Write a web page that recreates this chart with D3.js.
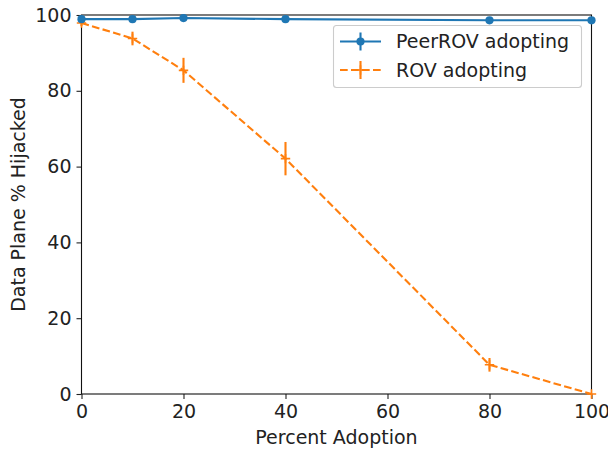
<!DOCTYPE html>
<html><head><meta charset="utf-8">
<script src="https://cdn.jsdelivr.net/npm/d3@7"></script>
<style>body{margin:0;background:#fff;}svg{display:block;font-family:"DejaVu Sans",sans-serif;}</style>
</head><body>
<svg id="c" width="608" height="450"></svg>
<script>
const adoption = [0, 10, 20, 40, 80, 100];
const peerROV = [98.9, 98.9, 99.2, 98.9, 98.6, 98.6];
const peerROVErr = [0.5, 0.3, 0.3, 0.3, 0.3, 0.3];
const rov = [97.9, 93.8, 85.4, 62.1, 7.7, 0.0];
const rovErr = [0.8, 1.8, 3.3, 4.4, 1.8, 0.0];
const xTicks = [0, 20, 40, 60, 80, 100];
const yTicks = [0, 20, 40, 60, 80, 100];
const seriesNames = ["PeerROV adopting", "ROV adopting"];
const colors = ["#1f77b4", "#ff7f0e"];

const L = 81.5, R = 591.5, T = 15, B = 394;
const svg = d3.select("#c");
const x = d3.scaleLinear().domain([0, 100]).range([L, R]);
const y = d3.scaleLinear().domain([0, 100]).range([B, T]);
const fs = 19;
const lw = 2.1;

// axes
const xa = svg.append("g").attr("transform", `translate(0,${B})`)
  .call(d3.axisBottom(x).tickValues(xTicks).tickSize(5).tickPadding(5).tickFormat(d3.format("d")));
const ya = svg.append("g").attr("transform", `translate(${L},0)`)
  .call(d3.axisLeft(y).tickValues(yTicks).tickSize(5).tickPadding(5).tickFormat(d3.format("d")));
[xa, ya].forEach(a => {
  a.select(".domain").remove();
  a.selectAll("text").attr("font-size", fs).attr("fill", "#222").attr("font-family", "DejaVu Sans");
  a.selectAll("line").attr("stroke", "#222").attr("stroke-width", 1.1);
});
xa.selectAll("text").attr("dy", "0.76em");
svg.append("rect").attr("x", L).attr("y", T).attr("width", R - L).attr("height", B - T)
  .attr("fill", "none").attr("stroke", "#111").attr("stroke-width", 1.1);

// labels
svg.append("text").attr("x", (L + R) / 2).attr("y", 444).attr("text-anchor", "middle")
  .attr("font-size", fs).attr("fill", "#222").text("Percent Adoption");
svg.append("text").attr("transform", `translate(24.5,${(T + B) / 2}) rotate(-90)`).attr("text-anchor", "middle")
  .attr("font-size", fs).attr("fill", "#222").text("Data Plane % Hijacked");

const plot = svg.append("g");
const line = d3.line().x((d, i) => x(adoption[i])).y(d => y(d));

// ROV (orange)
plot.append("path").datum(rov).attr("d", line).attr("fill", "none")
  .attr("stroke", colors[1]).attr("stroke-width", lw).attr("stroke-dasharray", "7.7,3.3");
plot.selectAll(".eb1").data(rov).enter().append("line")
  .attr("x1", (d, i) => x(adoption[i])).attr("x2", (d, i) => x(adoption[i]))
  .attr("y1", (d, i) => y(d + rovErr[i])).attr("y2", (d, i) => y(d - rovErr[i]))
  .attr("stroke", colors[1]).attr("stroke-width", lw);
const plusR = 4.7;
plot.selectAll(".pl").data(rov).enter().append("path")
  .attr("d", (d, i) => {
    const cx = x(adoption[i]), cy = y(d);
    return `M${cx - plusR},${cy}H${cx + plusR}M${cx},${cy - plusR}V${cy + plusR}`;
  })
  .attr("stroke", colors[1]).attr("stroke-width", 1.6).attr("fill", "none");

// PeerROV (blue)
plot.append("path").datum(peerROV).attr("d", line).attr("fill", "none")
  .attr("stroke", colors[0]).attr("stroke-width", lw);
plot.selectAll(".eb0").data(peerROV).enter().append("line")
  .attr("x1", (d, i) => x(adoption[i])).attr("x2", (d, i) => x(adoption[i]))
  .attr("y1", (d, i) => y(d + peerROVErr[i])).attr("y2", (d, i) => y(d - peerROVErr[i]))
  .attr("stroke", colors[0]).attr("stroke-width", lw);
plot.selectAll(".dot").data(peerROV).enter().append("circle")
  .attr("cx", (d, i) => x(adoption[i])).attr("cy", d => y(d)).attr("r", 4.1)
  .attr("fill", colors[0]);

// legend
const lg = svg.append("g");
lg.append("rect").attr("x", 333.5).attr("y", 25.5).attr("width", 248).attr("height", 62).attr("rx", 3)
  .attr("fill", "#fff").attr("fill-opacity", 0.8).attr("stroke", "#ccc").attr("stroke-width", 1.1);
const rowsY = [41.5, 70];
seriesNames.forEach((name, i) => {
  const cy = rowsY[i];
  const g = lg.append("g");
  g.append("line").attr("x1", 340).attr("x2", 381).attr("y1", cy).attr("y2", cy)
    .attr("stroke", colors[i]).attr("stroke-width", lw)
    .attr("stroke-dasharray", i === 1 ? "7.7,3.3" : null);
  g.append("line").attr("x1", 360.5).attr("x2", 360.5).attr("y1", cy - 9).attr("y2", cy + 9)
    .attr("stroke", colors[i]).attr("stroke-width", lw);
  if (i === 0) {
    g.append("circle").attr("cx", 360.5).attr("cy", cy).attr("r", 4.1).attr("fill", colors[i]);
  } else {
    g.append("path").attr("d", `M${360.5 - plusR},${cy}H${360.5 + plusR}M360.5,${cy - plusR}V${cy + plusR}`)
      .attr("stroke", colors[i]).attr("stroke-width", 1.6);
  }
  g.append("text").attr("x", 396).attr("y", cy).attr("dy", "0.35em")
    .attr("font-size", fs).attr("fill", "#222").text(name);
});
</script>
</body></html>
